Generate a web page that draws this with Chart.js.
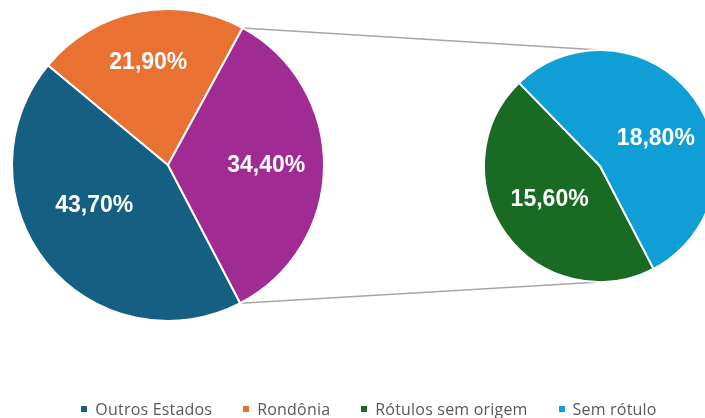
<!DOCTYPE html>
<html lang="pt-BR">
<head>
<meta charset="utf-8">
<script src="https://cdn.jsdelivr.net/npm/chart.js@4.4.1/dist/chart.umd.min.js"></script>
<style>
  html, body { margin:0; padding:0; background:#fff; width:705px; height:418px; overflow:hidden; }
  body { position:relative; }
  #linhas { position:absolute; left:0; top:0; }
  #boxPrincipal { position:absolute; left:0; top:0; width:336px; height:330px; }
  #boxDetalhe { position:absolute; left:480px; top:46px; width:240px; height:240px; }
  #legenda { position:absolute; left:0; top:399px; width:738px; height:20px;
    display:flex; justify-content:center; align-items:center; gap:31px;
    font-family:"Open Sans", sans-serif; font-size:16px; letter-spacing:0.2px; color:#595959; white-space:nowrap; }
  #legenda span.item { display:flex; align-items:center; }
  #legenda i { display:inline-block; width:6px; height:6px; margin-right:8px; }
</style>
</head>
<body>
<canvas id="linhas" width="705" height="418"></canvas>
<div id="boxPrincipal"><canvas id="pizzaPrincipal"></canvas></div>
<div id="boxDetalhe"><canvas id="pizzaDetalhe"></canvas></div>
<div id="legenda"></div>
<script>
// Pizza principal (a fatia "Outros" se abre na pizza da direita)
const categoriasPrincipal = ['Outros Estados', 'Rondônia'];
const valoresPrincipal = [43.7, 21.9];
const coresPrincipal = ['#156082', '#E97132'];

// Pizza de detalhe
const categoriasDetalhe = ['Rótulos sem origem', 'Sem rótulo'];
const valoresDetalhe = [15.6, 18.8];
const coresDetalhe = ['#196B24', '#0F9ED5'];

const corOutros = '#A02B93';
const somaOutros = valoresDetalhe.reduce((a, b) => a + b, 0);

const formata = (v) => v.toFixed(2).replace('.', ',') + '%';

// Plugin simples para escrever os percentuais dentro das fatias
// fatores = distância do centro (fração do raio), giros = ajuste do ângulo em graus
const rotulosPlugin = {
  id: 'rotulos',
  afterDatasetsDraw(chart, args, opts) {
    const ctx = chart.ctx;
    const meta = chart.getDatasetMeta(0);
    const valores = chart.data.datasets[0].data;
    ctx.save();
    ctx.font = 'bold 23px "Liberation Sans", Arial, sans-serif';
    ctx.fillStyle = '#ffffff';
    ctx.textAlign = 'center';
    ctx.textBaseline = 'middle';
    meta.data.forEach((arc, i) => {
      const p = arc.getProps(['x', 'y', 'startAngle', 'endAngle', 'outerRadius']);
      const meio = (p.startAngle + p.endAngle) / 2 + opts.giros[i] * Math.PI / 180;
      const r = p.outerRadius * opts.fatores[i];
      ctx.fillText(formata(valores[i]), p.x + Math.cos(meio) * r, p.y + Math.sin(meio) * r);
    });
    ctx.restore();
  }
};

const opcoesBase = (fatores, giros) => ({
  responsive: true,
  maintainAspectRatio: false,
  animation: false,
  events: [],
  plugins: {
    legend: { display: false },
    tooltip: { enabled: false },
    rotulos: { fatores: fatores, giros: giros }
  }
});

const principal = new Chart(document.getElementById('pizzaPrincipal'), {
  type: 'pie',
  data: {
    labels: [...categoriasPrincipal, 'Outros'],
    datasets: [{
      data: [...valoresPrincipal, somaOutros],
      backgroundColor: [...coresPrincipal, corOutros],
      borderColor: '#ffffff',
      borderWidth: 2,
      hoverOffset: 0,
      radius: 156,
      rotation: 152.4
    }]
  },
  options: opcoesBase([0.54, 0.67, 0.63], [10, 0, 0]),
  plugins: [rotulosPlugin]
});

const detalhe = new Chart(document.getElementById('pizzaDetalhe'), {
  type: 'pie',
  data: {
    labels: categoriasDetalhe,
    datasets: [{
      data: valoresDetalhe,
      backgroundColor: coresDetalhe,
      borderColor: '#ffffff',
      borderWidth: 2,
      hoverOffset: 0,
      radius: 116,
      rotation: 152.5
    }]
  },
  options: opcoesBase([0.52, 0.535], [2.5, 10]),
  plugins: [rotulosPlugin]
});

// Linhas que ligam a fatia "Outros" à pizza de detalhe
const ctxLinhas = document.getElementById('linhas').getContext('2d');
const boxP = document.getElementById('boxPrincipal');
const boxD = document.getElementById('boxDetalhe');
const arcOutros = principal.getDatasetMeta(0).data[2].getProps(['x', 'y', 'startAngle', 'endAngle', 'outerRadius']);
const arcDet = detalhe.getDatasetMeta(0).data[0].getProps(['x', 'y', 'outerRadius']);
const px = boxP.offsetLeft, py = boxP.offsetTop;
const dx = boxD.offsetLeft, dy = boxD.offsetTop;
ctxLinhas.strokeStyle = '#A6A6A6';
ctxLinhas.lineWidth = 1.5;
ctxLinhas.beginPath();
ctxLinhas.moveTo(px + arcOutros.x + Math.cos(arcOutros.startAngle) * arcOutros.outerRadius,
                 py + arcOutros.y + Math.sin(arcOutros.startAngle) * arcOutros.outerRadius);
ctxLinhas.lineTo(dx + arcDet.x, dy + arcDet.y - arcDet.outerRadius);
ctxLinhas.moveTo(px + arcOutros.x + Math.cos(arcOutros.endAngle) * arcOutros.outerRadius,
                 py + arcOutros.y + Math.sin(arcOutros.endAngle) * arcOutros.outerRadius);
ctxLinhas.lineTo(dx + arcDet.x, dy + arcDet.y + arcDet.outerRadius);
ctxLinhas.stroke();

// Legenda (a fatia "Outros" não aparece)
const legenda = document.getElementById('legenda');
const nomes = [...categoriasPrincipal, ...categoriasDetalhe];
const cores = [...coresPrincipal, ...coresDetalhe];
nomes.forEach((nome, i) => {
  legenda.innerHTML += `<span class="item"><i style="background:${cores[i]}"></i>${nome}</span>`;
});
</script>
</body>
</html>
